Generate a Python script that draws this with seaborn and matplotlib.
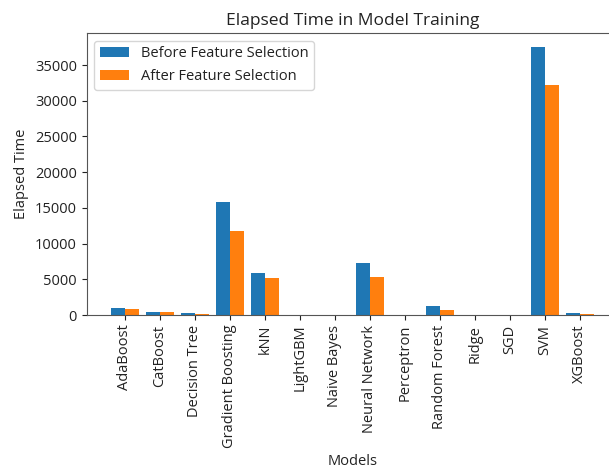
import matplotlib
matplotlib.use('Agg')
import matplotlib.pyplot as plt
import pandas as pd
import seaborn as sns

models = ['AdaBoost', 'CatBoost', 'Decision Tree', 'Gradient Boosting', 'kNN',
          'LightGBM', 'Naive Bayes', 'Neural Network', 'Perceptron',
          'Random Forest', 'Ridge', 'SGD', 'SVM', 'XGBoost']
before_fs = [980, 470, 240, 15800, 5930, 30, 5, 7320, 15, 1220, 5, 10, 37560, 280]
after_fs = [800, 450, 200, 11740, 5230, 25, 4, 5310, 12, 750, 4, 8, 32250, 100]
series_names = ['Before Feature Selection', 'After Feature Selection']

plt.rcParams['font.family'] = ['Open Sans', 'DejaVu Sans']
plt.rcParams['text.color'] = '#222222'
plt.rcParams['axes.labelcolor'] = '#222222'
plt.rcParams['xtick.color'] = '#222222'
plt.rcParams['ytick.color'] = '#222222'
plt.rcParams['xtick.labelsize'] = 10.5
plt.rcParams['ytick.labelsize'] = 10.5

df = pd.DataFrame({
    'Models': models * 2,
    'Phase': [series_names[0]] * len(models) + [series_names[1]] * len(models),
    'Elapsed Time': before_fs + after_fs,
})

fig = plt.figure(figsize=(6.09, 4.68), dpi=100)
ax = fig.add_axes([0.1424, 0.3269, 0.8724, 0.6019])
sns.barplot(data=df, x='Models', y='Elapsed Time', hue='Phase', order=models,
            hue_order=series_names, palette=['#1f77b4', '#ff7f0e'],
            saturation=1, width=0.8, errorbar=None, ax=ax)

ax.set_xlim(-1.09, 14.09)
ax.set_ylim(0, max(before_fs) * 1.05)
ax.set_title('Elapsed Time in Model Training', fontsize=12.5)
ax.set_xlabel('Models', fontsize=10.5)
ax.set_ylabel('Elapsed Time', fontsize=10.5)
ax.tick_params(axis='x', labelrotation=90)
for s in ax.spines.values():
    s.set_color('#555555')
ax.legend(loc='upper left', title=None, fontsize=10.5)

fig.savefig('out.png', dpi=100)
